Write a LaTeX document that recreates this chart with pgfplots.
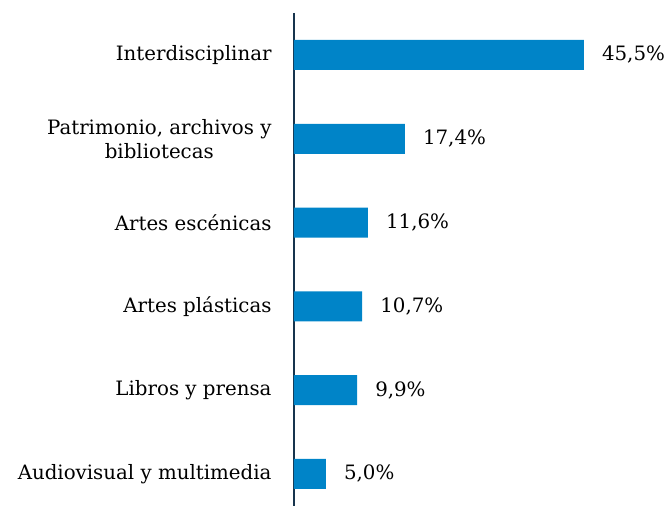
\documentclass[border=0pt]{standalone}
\usepackage{fontspec}
\setmainfont{DejaVu Serif}
\usepackage{pgfplots}
\pgfplotsset{compat=1.18}
\definecolor{barblue}{HTML}{0084C8}
\definecolor{axisnavy}{HTML}{17344D}

\begin{document}
\begin{tikzpicture}[font=\fontsize{19.8}{24}\selectfont]
\begin{axis}[
  scale only axis,
  width=372pt, height=493pt,
  xbar, bar width=30pt, bar shift=0pt,
  xmin=0, xmax=58.4,
  ymin=-0.501, ymax=5.382, y dir=reverse,
  axis x line=none,
  axis y line*=left,
  y axis line style={axisnavy, line width=2pt},
  ytick={0,...,5},
  yticklabels={Interdisciplinar,{Patrimonio, archivos y\\bibliotecas},Artes escénicas,Artes plásticas,Libros y prensa,Audiovisual y multimedia},
  yticklabel style={align=center, inner sep=0pt, xshift=-18pt},
  ytick style={draw=none},
  /pgf/number format/assume math mode=true,
  nodes near coords={\pgfmathprintnumber[fixed,zerofill,precision=1,use comma]{\pgfplotspointmeta}\%},
  nodes near coords style={anchor=west, inner sep=0pt, xshift=18pt},
  clip=false,
]
\addplot[fill=barblue, draw=none] coordinates {
  (45.5,0) (17.4,1) (11.6,2) (10.7,3) (9.9,4) (5.0,5)
};
\end{axis}
\pgfresetboundingbox
\path[use as bounding box] (-294pt,0pt) rectangle (372pt,506pt);
\end{tikzpicture}
\end{document}
